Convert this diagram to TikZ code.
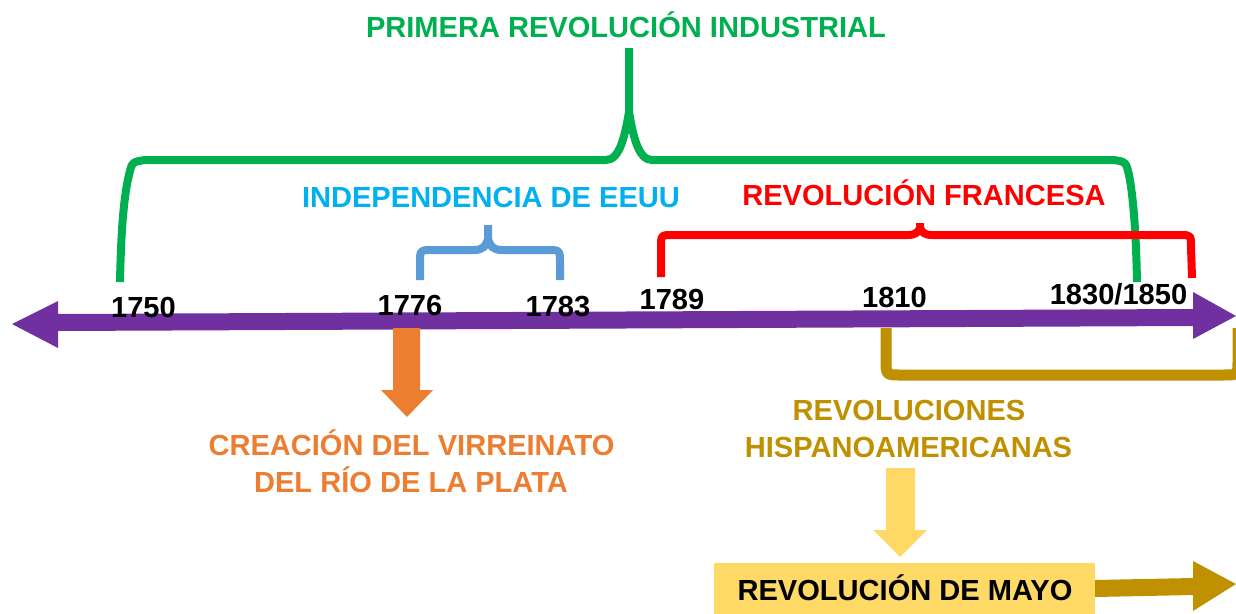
\documentclass[tikz,border=0pt]{standalone}
\usepackage{fontspec}
\setmainfont{Liberation Sans}
\definecolor{cgreen}{HTML}{00B050}
\definecolor{ctextblue}{HTML}{00B0F0}
\definecolor{cbrace}{HTML}{5B9BD5}
\definecolor{cred}{HTML}{FF0000}
\definecolor{corange}{HTML}{ED7D31}
\definecolor{cgold}{HTML}{BF9000}
\definecolor{cyellow}{HTML}{FFD966}
\definecolor{cpurple}{HTML}{7030A0}
\begin{document}
\begin{tikzpicture}[x=0.75pt,y=-0.75pt,
  lbl/.style={font=\fontsize{21.8pt}{26pt}\selectfont\bfseries, inner sep=0pt, anchor=base},
  brace/.style={line width=6pt, line cap=butt, line join=round}]
\useasboundingbox (0,0) rectangle (1236,614);
% purple timeline arrow
\fill[cpurple] (12,324) -- (58,301) -- (58,314) -- (1193,309) -- (1193,292) -- (1236,316)
  -- (1193,339) -- (1193,326) -- (58,331) -- (58,348) -- cycle;
% green brace
\draw[brace,cgreen] (120,282) .. controls (121,230) and (124,195) .. (129,175) .. controls (132,162) .. (145,160) -- (606,160)
  .. controls (620,160) and (625,135) .. (629,112) -- (629,48);
\draw[brace,cgreen] (629,112) .. controls (633,135) and (638,160) .. (652,160) -- (1114,160)
  .. controls (1126,162) .. (1129,175) .. controls (1133,195) and (1136,230) .. (1137,282);
% blue brace
\draw[brace,cbrace] (420,280) -- (420,263) .. controls (420,250) .. (433,250) -- (474,250)
  .. controls (483,250) and (486,246) .. (488,239) -- (488,225);
\draw[brace,cbrace] (488,239) .. controls (490,246) and (493,250) .. (502,250) -- (547,250)
  .. controls (560,250) .. (560,263) -- (560,280);
% red brace
\draw[brace,cred] (661,277) -- (661,247) .. controls (661,235) .. (673,235) -- (908,235)
  .. controls (916,235) and (918,232) .. (920,228) -- (920,223);
\draw[brace,cred] (920,228) .. controls (922,232) and (924,235) .. (932,235) -- (1180,235)
  .. controls (1191,235) .. (1191,247) -- (1192,278);
% gold bracket
\draw[line width=8.25pt,cgold,line join=round] (886,328) -- (886,360) .. controls (886,375) .. (901,375)
  -- (1224,375) .. controls (1238,375) .. (1238,361) -- (1238,328);
% orange arrow
\fill[corange] (393,328) -- (420,328) -- (420,390) -- (433,390) -- (407,417) -- (381,390) -- (393,390) -- cycle;
% yellow arrow
\fill[cyellow] (886,468) -- (915,468) -- (915,530) -- (927,530) -- (900,557) -- (873,530) -- (886,530) -- cycle;
% yellow box
\node[fill=cyellow, minimum width=381*0.75pt, minimum height=51*0.75pt, inner sep=0pt, anchor=north west] (mayobox) at (714,563) {};
\node[lbl] (mayo) at (905,600.4) {REVOLUCIÓN DE MAYO};
% gold arrow
\fill[cgold] (1095,580) -- (1193,578) -- (1193,561) -- (1236,584) -- (1193,611) -- (1193,595) -- (1095,597) -- cycle;
% texts
\node[lbl,text=cgreen] (t1) at (626,37.4) {PRIMERA REVOLUCIÓN INDUSTRIAL};
\node[lbl,text=ctextblue] (t2) at (491,207.4) {INDEPENDENCIA DE EEUU};
\node[lbl,text=cred] (t3) at (924,205.4) {REVOLUCIÓN FRANCESA};
\node[lbl] (y1750) at (143.5,317.9) {1750};
\node[lbl] (y1776) at (410,315.4) {1776};
\node[lbl] (y1783) at (558,316.4) {1783};
\node[lbl] (y1789) at (672,309.4) {1789};
\node[lbl] (y1810) at (894.5,307.4) {1810};
\node[lbl] (y1830) at (1118.5,304.9) {1830/1850};
\node[lbl,text=corange] (c1) at (411.5,455.4) {CREACIÓN DEL VIRREINATO};
\node[lbl,text=corange] (c2) at (411,492.4) {DEL RÍO DE LA PLATA};
\node[lbl,text=cgold] (h1) at (909,420.4) {REVOLUCIONES};
\node[lbl,text=cgold] (h2) at (908.5,457.4) {HISPANOAMERICANAS};
\end{tikzpicture}
\end{document}
